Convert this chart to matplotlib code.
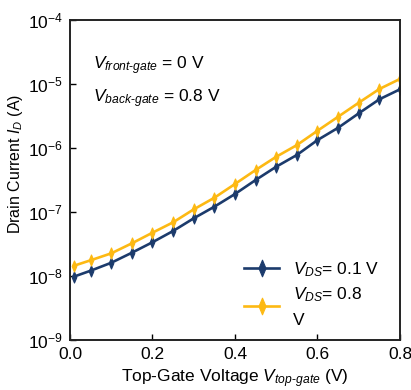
import matplotlib
matplotlib.use("Agg")
import matplotlib.pyplot as plt
from matplotlib.path import Path
import numpy as np

plt.rcParams['font.family'] = ['Liberation Sans', 'DejaVu Sans']
plt.rcParams['mathtext.fontset'] = 'custom'
plt.rcParams['mathtext.rm'] = 'Liberation Sans'
plt.rcParams['mathtext.it'] = 'Liberation Sans:italic'
plt.rcParams['mathtext.bf'] = 'Liberation Sans:bold'
plt.rcParams['font.size'] = 12

# Top-gate sweep (V)
v_top_gate = [0.01, 0.05, 0.10, 0.15, 0.20, 0.25, 0.30, 0.35, 0.40,
              0.45, 0.50, 0.55, 0.60, 0.65, 0.70, 0.75, 0.80]

# Drain current (A)
id_vds_01 = [9.8e-9, 1.21e-8, 1.61e-8, 2.31e-8, 3.37e-8, 5.05e-8, 7.97e-8,
             1.21e-7, 1.91e-7, 3.16e-7, 5.1e-7, 7.78e-7, 1.33e-6, 2.07e-6,
             3.48e-6, 5.77e-6, 8.26e-6]
id_vds_08 = [1.45e-8, 1.76e-8, 2.26e-8, 3.24e-8, 4.75e-8, 6.9e-8, 1.10e-7,
             1.67e-7, 2.74e-7, 4.53e-7, 7.3e-7, 1.11e-6, 1.86e-6, 3.08e-6,
             5.1e-6, 8.35e-6, 1.2e-5]

series_labels = ["$V_{DS}$= 0.1 V", "$V_{DS}$= 0.8\nV"]
series_colors = ["#1c3b6c", "#fdb913"]

# narrow upright diamond marker
slim_diamond = Path([(0, -1), (0.42, 0), (0, 1), (-0.42, 0), (0, -1)],
                    [Path.MOVETO, Path.LINETO, Path.LINETO, Path.LINETO,
                     Path.CLOSEPOLY])

fig = plt.figure(figsize=(4.11, 3.90), dpi=100)
ax = fig.add_axes([0.1703, 0.1282, 0.8029, 0.8205])

for y, lab, c in zip([id_vds_01, id_vds_08], series_labels, series_colors):
    ax.plot(v_top_gate, y, color=c, lw=1.9, marker=slim_diamond, ms=8,
            mec=c, mfc=c, mew=0.8, label=lab)

ax.set_yscale('log')
ax.set_xlim(0.0, 0.8)
ax.set_ylim(1e-9, 1e-4)
ax.set_xticks([0.0, 0.2, 0.4, 0.6, 0.8])
ax.set_xticklabels(["0.0", "0.2", "0.4", "0.6", "0.8"])
ax.set_yticks([1e-9, 1e-8, 1e-7, 1e-6, 1e-5, 1e-4])
ax.yaxis.set_minor_locator(matplotlib.ticker.NullLocator())
ax.tick_params(axis='both', which='major', direction='in', length=4,
               width=1.0, labelsize=12.5, pad=5)

for s in ax.spines.values():
    s.set_linewidth(1.4)
    s.set_color('#222222')

ax.set_xlabel("Top-Gate Voltage $V_{top\\text{-}gate}$ (V)", fontsize=12.5)
ax.xaxis.set_label_coords(0.5, -0.087)
ax.set_ylabel("Drain Current $I_D$ (A)", fontsize=11.5)
ax.yaxis.set_label_coords(-0.135, 0.55)

ax.text(0.07, 0.857, "$V_{front\\text{-}gate}$ = 0 V", transform=ax.transAxes,
        fontsize=12.5, va='center', ha='left')
ax.text(0.07, 0.753, "$V_{back\\text{-}gate}$ = 0.8 V", transform=ax.transAxes,
        fontsize=12.5, va='center', ha='left')

leg = ax.legend(loc='lower right', bbox_to_anchor=(0.985, -0.01), frameon=False,
                fontsize=12.5, handlelength=2.0, handletextpad=0.8,
                labelspacing=0.37, markerscale=1.5)
leg.get_texts()[1].set_linespacing(1.7)

fig.savefig("out.png", dpi=100)
